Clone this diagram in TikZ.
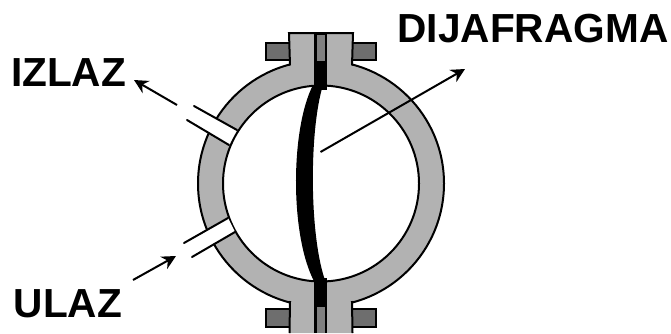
\documentclass[tikz,border=0pt]{standalone}
\usepackage{fontspec}
\setmainfont{Liberation Sans}
\usetikzlibrary{arrows.meta}
\begin{document}
\begin{tikzpicture}[
    x=1pt,y=-1pt,
    wall/.style={draw=black,line width=2pt,fill=ringgray},
    bolt/.style={draw=black,line width=2pt,fill=boltgray},
    seal/.style={fill=black},
    edge/.style={line width=2pt,black},
    pipe/.style={-{Stealth[length=14pt,width=14pt]},line width=2pt,black},
    lab/.style={font=\fontsize{40.6}{40.6}\selectfont\bfseries,inner sep=0pt}
  ]
    \definecolor{ringgray}{HTML}{B2B2B2}
    \definecolor{boltgray}{HTML}{6E6E6E}
    \definecolor{coregray}{HTML}{808080}
    \useasboundingbox (0,0) rectangle (671,333);
    \coordinate (c) at (321,183.5);
    \path[wall,even odd rule] (c) circle[radius=123pt] (c) circle[radius=98pt];
    % ports
    \coordinate (u1) at (194,106); \coordinate (u2) at (237,130);
    \coordinate (u3) at (187,120); \coordinate (u4) at (229,145);
    \coordinate (d1) at (184,243); \coordinate (d2) at (228,218);
    \coordinate (d3) at (192,257); \coordinate (d4) at (235,232);
    \fill[white] (u1)--(u2)--(u4)--(u3)--cycle;
    \fill[white] (d1)--(d2)--(d4)--(d3)--cycle;
    \foreach \s/\t in {u1/u2,u3/u4,d1/d2,d3/d4} {\draw[edge,line cap=round] (\s)--(\t);}
    % bolts
    \draw[bolt] (266,43) rectangle (292,60);
    \draw[bolt] (350,43) rectangle (376,60);
    \draw[bolt] (266,309) rectangle (292,327);
    \draw[bolt] (350,309) rectangle (376,327);
    % flanges
    \fill[ringgray] (289,33)--(353,33)--(352,66)--(290,66)--cycle;
    \draw[edge] (290,65.5)--(289,33)--(353,33)--(352,65.5);
    \fill[ringgray] (290,302)--(352,302)--(353,333)--(289,333)--cycle;
    \draw[edge] (290,301)--(289.5,333);
    \draw[edge] (352,301)--(352.5,333);
    % slots
    \fill[seal] (314,33)rectangle(327,90);
    \fill[seal] (314,278)rectangle(327,333);
    \fill[coregray] (316.5,35)rectangle(324.5,61);
    \fill[coregray] (316.5,307)rectangle(324.5,333);
    % membrane
    \fill[seal] (313,85) .. controls (290,130) and (290,238) .. (315,283)
      -- (326,283) .. controls (309,238) and (309,130) .. (323,85) -- cycle;
    % labels
    \node[lab] (dij) at (533,29) {DIJAFRAGMA};
    \node[lab] (izl) at (68.5,73) {IZLAZ};
    \node[lab] (ula) at (68,304) {ULAZ};
    \coordinate (a1) at (177,105); \coordinate (a2) at (134,80);
    \coordinate (b1) at (133,280); \coordinate (b2) at (176,256);
    \coordinate (e1) at (320.5,152); \coordinate (e2) at (465,69);
    \foreach \s/\t in {a1/a2,b1/b2,e1/e2} {\draw[pipe] (\s)--(\t);}
  \end{tikzpicture}
\end{document}
